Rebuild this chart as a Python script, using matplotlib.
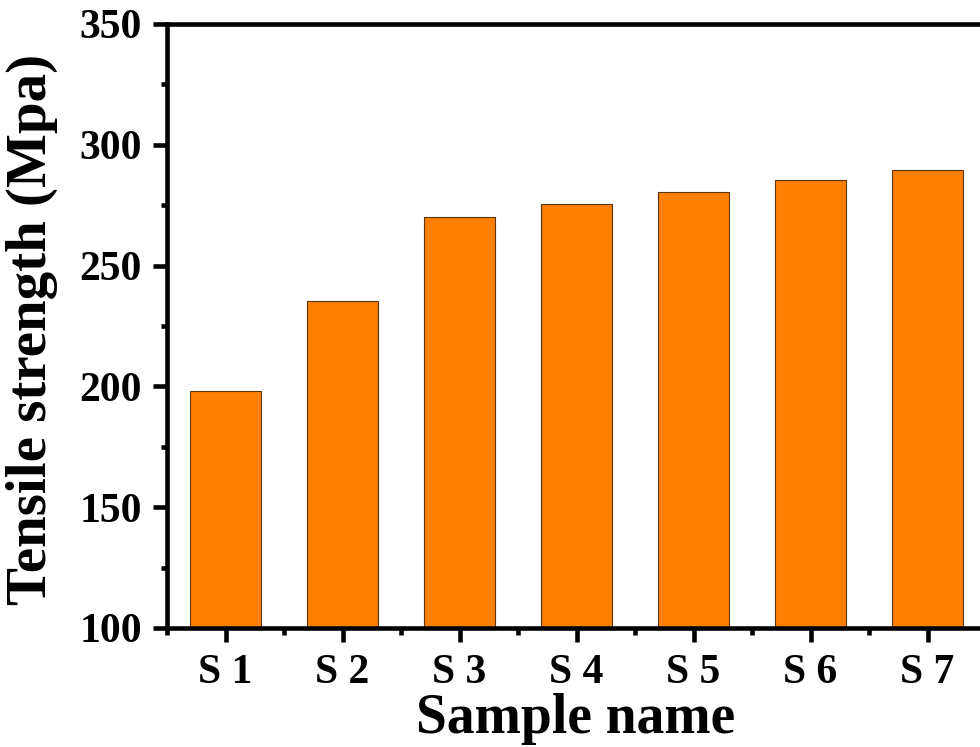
import matplotlib
matplotlib.use("Agg")
import matplotlib.pyplot as plt
from matplotlib.ticker import MultipleLocator

samples = ["S 1", "S 2", "S 3", "S 4", "S 5", "S 6", "S 7"]
strength = [198, 235.5, 270, 275.5, 280.5, 285.5, 289.5]

plt.rcParams['font.family'] = ['Liberation Serif', 'DejaVu Serif']
plt.rcParams['font.weight'] = 'bold'

W, H = 980, 747
fig = plt.figure(figsize=(W / 100, H / 100), dpi=100)
left, right, top, bottom = 167, 986, 24, 628
ax = fig.add_axes([left / W, (H - bottom) / H, (right - left) / W, (bottom - top) / H])

x = list(range(1, len(samples) + 1))
ax.bar(x, strength, width=0.6, color='#FF8000', edgecolor='#5a3510', linewidth=0.8)

ax.set_xlim(0.5, 7.5)
ax.set_ylim(100, 350)
ax.set_xticks(x)
ax.set_xticklabels(samples)
ax.xaxis.set_minor_locator(MultipleLocator(0.5))
ax.yaxis.set_major_locator(MultipleLocator(50))
ax.yaxis.set_minor_locator(MultipleLocator(25))

for s in ax.spines.values():
    s.set_linewidth(3.3)
ax.tick_params(which='major', direction='out', length=10, width=3.3, labelsize=30)
ax.tick_params(axis='x', which='major', pad=9)
ax.tick_params(axis='y', which='major', pad=8)
ax.tick_params(axis='x', which='minor', direction='out', length=5, width=3.3)
ax.tick_params(axis='y', which='minor', direction='out', length=4.5, width=3.3)
ax.tick_params(axis='x', which='both', top=False)
ax.tick_params(axis='y', which='both', right=False)
for lab in ax.get_xticklabels() + ax.get_yticklabels():
    lab.set_fontweight('bold')

fig.text(576 / W, 1 - 733 / H, "Sample name", fontsize=40, fontweight='bold',
         ha='center', va='baseline')
fig.text(32 / W, 1 - 329 / H, "Tensile strength (Mpa)", fontsize=41, fontweight='bold',
         ha='center', va='center', rotation=90)

fig.savefig("out.png", dpi=100)
